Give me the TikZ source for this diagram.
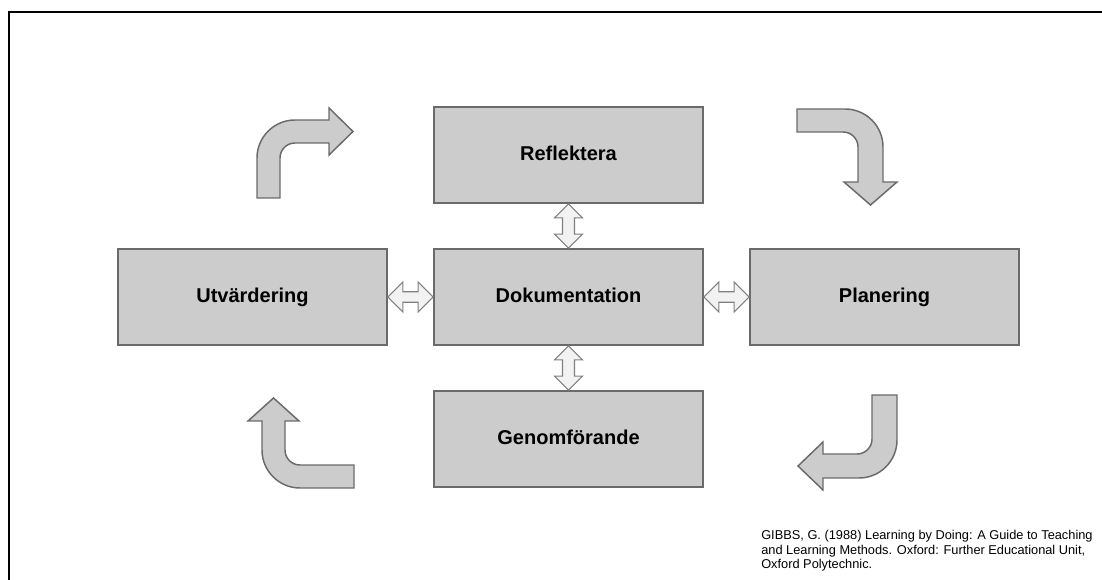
\documentclass[tikz,border=0pt]{standalone}
\usepackage{fontspec}
\setmainfont{Liberation Sans}
\usepackage{tikz}
\usetikzlibrary{positioning,calc}

\definecolor{boxfill}{HTML}{CCCCCC}
\definecolor{boxline}{HTML}{6A6A6A}
\definecolor{pairfill}{HTML}{F2F2F2}

\tikzset{
  box/.style={draw=boxline,fill=boxfill,line width=1.3pt,minimum width=201.75pt,
    minimum height=72pt,inner sep=0pt,text height=11pt,text depth=3pt,
    font=\bfseries\fontsize{15}{18}\selectfont},
  twoway/.style={draw=boxline!85,fill=pairfill,line width=0.9pt,line join=miter},
  bent/.style={draw=boxline,fill=boxfill,line width=1.1pt,line join=miter}
}

% hollow two-headed arrows between boxes
\newcommand{\hdouble}[2]{%
  \draw[twoway] let \p1=(#1.east), \p2=(#2.west) in
    (\x1,\y1) -- (\x1+11.25pt,\y1+11.25pt) -- (\x1+11.25pt,\y1+4pt)
    -- (\x2-11.25pt,\y1+4pt) -- (\x2-11.25pt,\y1+11.25pt) -- (\x2,\y1)
    -- (\x2-11.25pt,\y1-11.25pt) -- (\x2-11.25pt,\y1-4pt)
    -- (\x1+11.25pt,\y1-4pt) -- (\x1+11.25pt,\y1-11.25pt) -- cycle;}
\newcommand{\vdouble}[2]{%
  \draw[twoway] let \p1=(#1.south), \p2=(#2.north) in
    (\x1,\y1) -- (\x1+10.5pt,\y1-10.5pt) -- (\x1+4.5pt,\y1-10.5pt)
    -- (\x1+4.5pt,\y2+10.5pt) -- (\x1+10.5pt,\y2+10.5pt) -- (\x1,\y2)
    -- (\x1-10.5pt,\y2+10.5pt) -- (\x1-4.5pt,\y2+10.5pt)
    -- (\x1-4.5pt,\y1-10.5pt) -- (\x1-10.5pt,\y1-10.5pt) -- cycle;}

\begin{document}
\begin{tikzpicture}[x=0.75pt,y=-0.75pt,node distance=106.5pt and 237pt,on grid]
  \useasboundingbox (0,0) rectangle (1102,580);
  % frame
  \draw[line width=1.6pt] (9,580) -- (9,12) -- (1102,12);

  \node[box] (dok) at (568.5,297) {Dokumentation};
  \node[box] (refl) [above = of dok] {Reflektera};
  \node[box] (gen) [below = of dok] {Genomförande};
  \node[box] (utv) [left = of dok] {Utvärdering};
  \node[box] (plan) [right = of dok] {Planering};

  \hdouble{utv}{dok}
  \hdouble{dok}{plan}
  \vdouble{refl}{dok}
  \vdouble{dok}{gen}

  % bent arrows round the cycle
  \filldraw[bent] (257,198) [rounded corners=28.5pt] -- (257,120) [sharp corners]
    -- (329,120) -- (329,108) -- (353,131.5) -- (329,155)
    -- (329,143) [rounded corners=11.25pt] -- (280,143) [sharp corners]
    -- (280,198) -- cycle;
  \filldraw[bent] (797,109) [rounded corners=28.5pt] -- (883,109) [sharp corners]
    -- (883,182) -- (897,182) -- (870.5,205) -- (844,182)
    -- (858,182) [rounded corners=11.25pt] -- (858,132) [sharp corners]
    -- (797,132) -- cycle;
  \filldraw[bent] (872,395) -- (897,395) [rounded corners=28.5pt] -- (897,478)
    [sharp corners] -- (823,478) -- (823,490) -- (798,466) -- (823,442)
    -- (823,454) [rounded corners=11.25pt] -- (872,454) [sharp corners] -- cycle;
  \filldraw[bent] (354,488) [rounded corners=28.5pt] -- (262,488) [sharp corners]
    -- (262,421) -- (248,421) -- (273.5,398) -- (299,421)
    -- (285,421) [rounded corners=11.25pt] -- (285,465) [sharp corners]
    -- (354,465) -- cycle;

  \node[anchor=north west,align=left,inner sep=0pt,
    font=\fontsize{9.6}{10.9}\selectfont] (ref) at (761,530)
    {GIBBS, G. (1988) Learning by Doing: A Guide to Teaching\\
     and Learning Methods. Oxford: Further Educational Unit,\\
     Oxford Polytechnic.};
\end{tikzpicture}
\end{document}
